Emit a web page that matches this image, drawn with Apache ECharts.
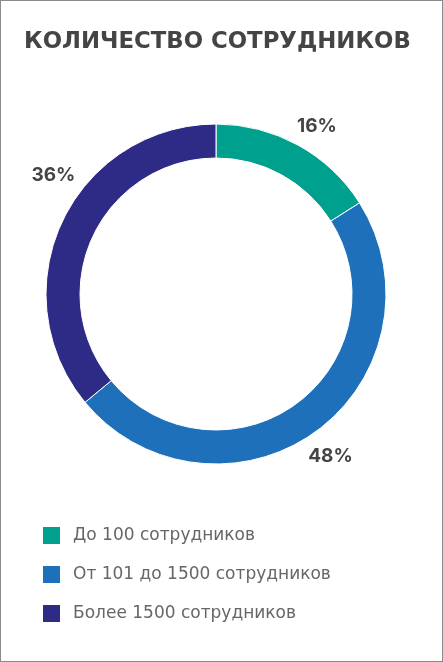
<!DOCTYPE html>
<html>
<head>
<meta charset="utf-8">
<script src="https://cdn.jsdelivr.net/npm/echarts@6/dist/echarts.min.js"></script>
<style>
  html, body { margin: 0; padding: 0; background: #fff; }
  #chart { width: 443px; height: 662px; box-sizing: border-box; border: 1px solid #8a8a8a; }
</style>
</head>
<body>
<div id="chart"></div>
<script>
var categories = ['До 100 сотрудников', 'От 101 до 1500 сотрудников', 'Более 1500 сотрудников'];
var shares = [16, 48, 36];
var colors = ['#00A08E', '#1E70BA', '#2D2B86'];

var chart = echarts.init(document.getElementById('chart'));

// подписи процентов сдвинуты вручную, как на исходнике
var labelOffsets = [[8, 1], [1, 6], [12, -37]];

var ringData = categories.map(function (name, i) {
  return { name: name, value: shares[i], itemStyle: { color: colors[i] } };
});
var labelData = categories.map(function (name, i) {
  return { name: name, value: shares[i], label: { offset: labelOffsets[i] } };
});

var option = {
  animation: false,
  title: {
    text: 'КОЛИЧЕСТВО СОТРУДНИКОВ',
    left: 18,
    top: 25,
    textStyle: { fontFamily: 'DejaVu Sans', fontWeight: 'bold', fontSize: 22.8, color: '#444' }
  },
  legend: {
    orient: 'vertical',
    left: 35,
    top: 519,
    itemWidth: 19,
    itemHeight: 19,
    itemGap: 18,
    icon: 'rect',
    data: categories,
    textStyle: { fontFamily: 'DejaVu Sans', fontSize: 17, color: '#666', padding: [0, 0, 0, 7] }
  },
  series: [
    {
      type: 'pie',
      center: [215, 293],
      radius: [136, 170],
      startAngle: 90,
      silent: true,
      label: { show: false },
      labelLine: { show: false },
      itemStyle: { borderColor: '#fff', borderWidth: 1 },
      data: ringData
    },
    {
      type: 'pie',
      center: [215, 293],
      radius: [185, 195],
      startAngle: 90,
      silent: true,
      itemStyle: { color: 'transparent' },
      label: {
        position: 'inside',
        formatter: '{c}%',
        fontFamily: 'Inter',
        fontWeight: 700,
        fontSize: 19,
        color: '#444'
      },
      labelLine: { show: false },
      data: labelData
    }
  ]
};

chart.setOption(option);
window.onresize = function () { chart.resize(); };
</script>
</body>
</html>
